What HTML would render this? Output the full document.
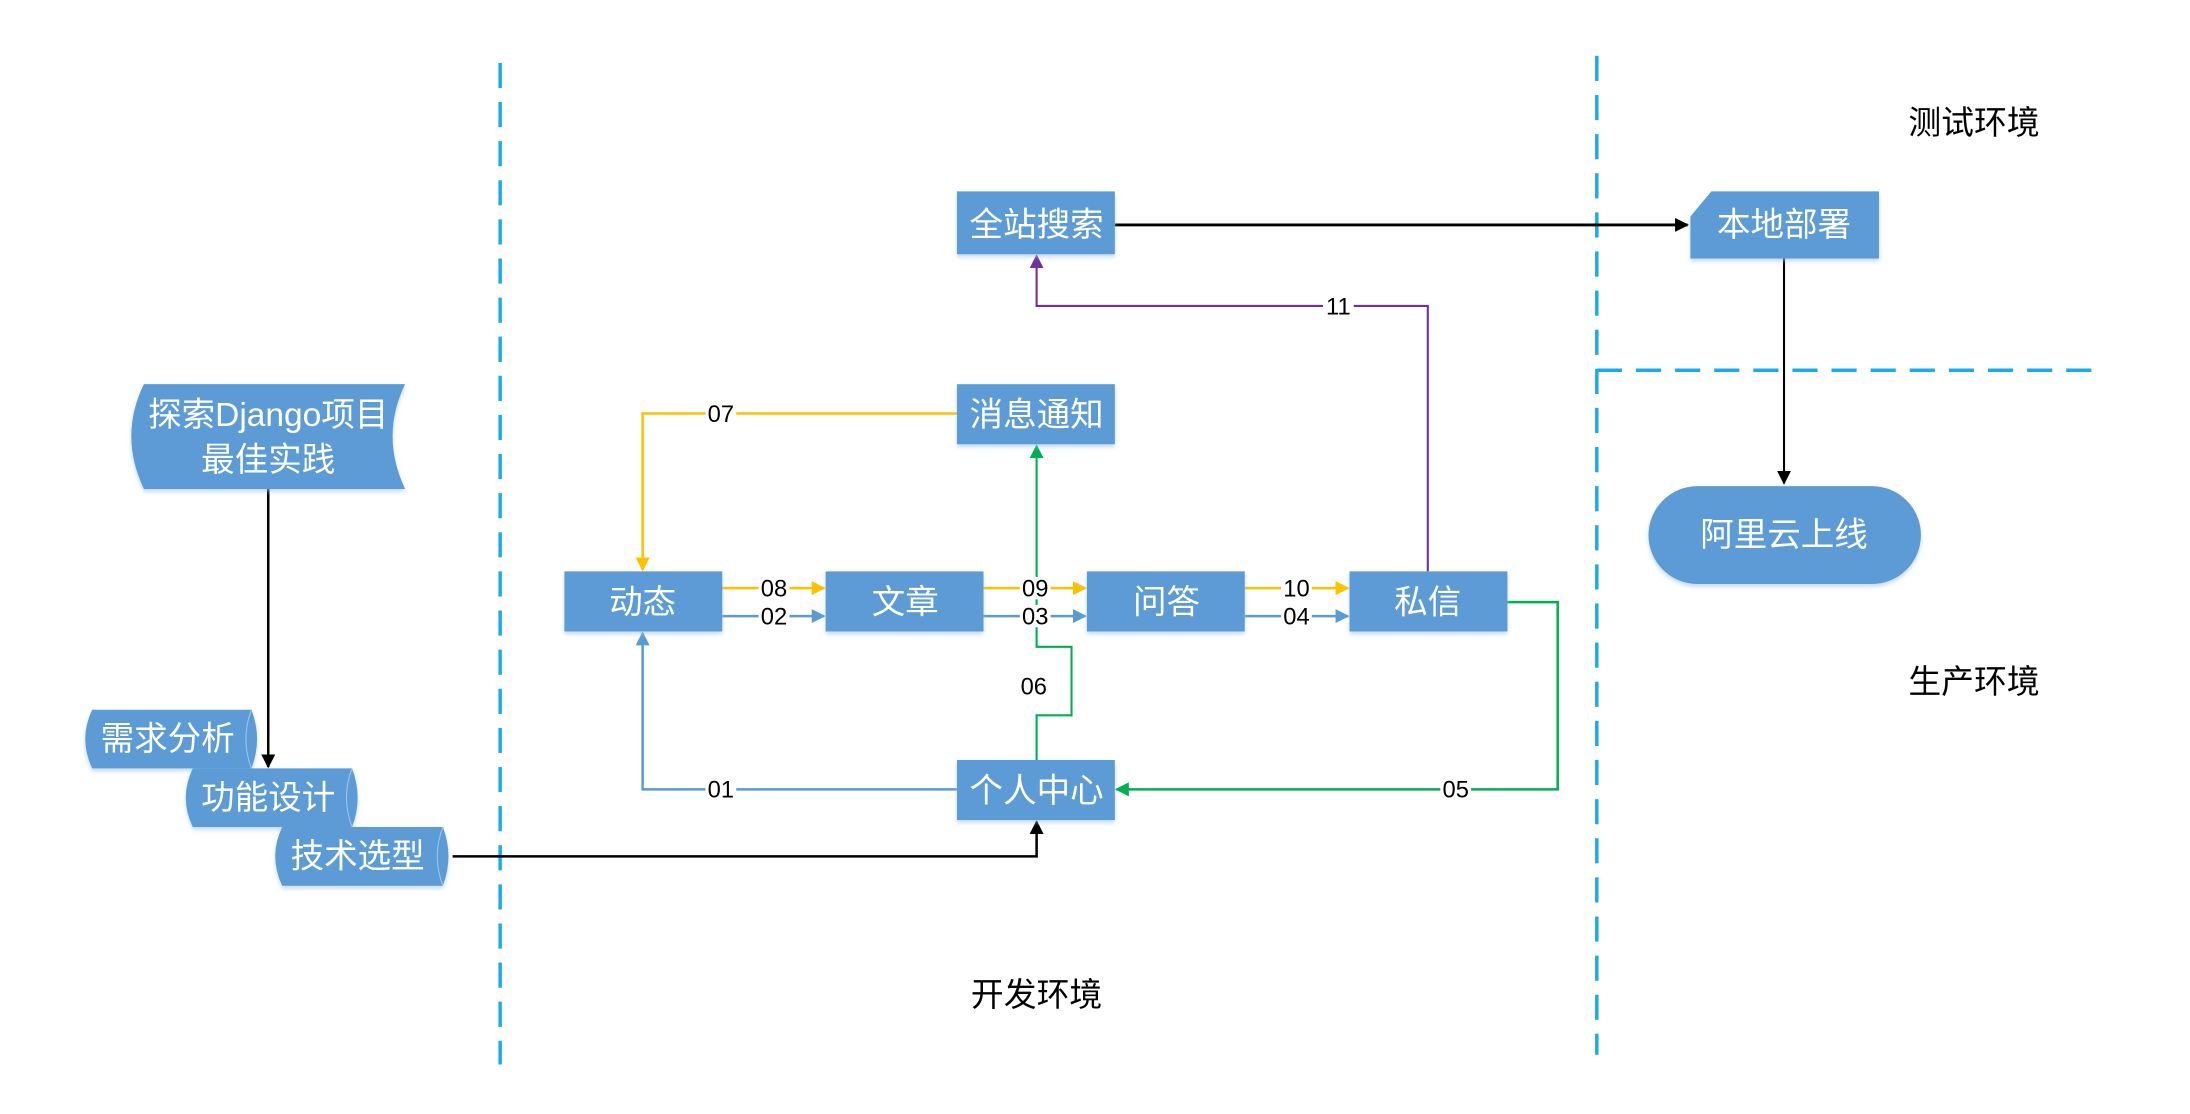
<!DOCTYPE html>
<html><head><meta charset="utf-8"><style>
html,body{margin:0;padding:0;background:#fff;width:2190px;height:1114px;overflow:hidden}
svg text{font-family:"Liberation Sans","Noto Sans CJK SC",sans-serif}
</style></head><body>
<svg width="2190" height="1114" viewBox="0 0 1567.6 797.4" preserveAspectRatio="none" xmlns="http://www.w3.org/2000/svg">
<defs>
<marker id="aK" markerWidth="10" markerHeight="10" refX="9" refY="5" orient="auto" markerUnits="userSpaceOnUse"><path d="M0,0 L10,5 L0,10 z" fill="#000"/></marker>
<marker id="aO" markerWidth="10" markerHeight="10" refX="9" refY="5" orient="auto" markerUnits="userSpaceOnUse"><path d="M0,0 L10,5 L0,10 z" fill="#ffc000"/></marker>
<marker id="aB" markerWidth="10" markerHeight="10" refX="9" refY="5" orient="auto" markerUnits="userSpaceOnUse"><path d="M0,0 L10,5 L0,10 z" fill="#5b9bd5"/></marker>
<marker id="aG" markerWidth="10" markerHeight="10" refX="9" refY="5" orient="auto" markerUnits="userSpaceOnUse"><path d="M0,0 L10,5 L0,10 z" fill="#00b050"/></marker>
<marker id="aP" markerWidth="10" markerHeight="10" refX="9" refY="5" orient="auto" markerUnits="userSpaceOnUse"><path d="M0,0 L10,5 L0,10 z" fill="#7030a0"/></marker>
<filter id="sh" x="-10%" y="-10%" width="120%" height="130%"><feDropShadow dx="0" dy="2" stdDeviation="1.5" flood-color="#9cc3e8" flood-opacity="0.6"/></filter>
</defs>
<g stroke="#1aabe8" stroke-width="2.5" stroke-dasharray="18 10" fill="none">
<line x1="358" y1="45" x2="358" y2="762"/>
<line x1="1143" y1="40" x2="1143" y2="755"/>
<line x1="1143" y1="265" x2="1503" y2="265"/>
</g>
<g font-size="23.5" fill="#000" text-anchor="middle">
<text x="1413" y="96">测试环境</text>
<text x="1413" y="496">生产环境</text>
<text x="742" y="720">开发环境</text>
</g>
<g fill="none">
<polyline points="798,161 1208,161" stroke="#000" stroke-width="2" marker-end="url(#aK)"/>
<polyline points="1277,185 1277,346" stroke="#000" stroke-width="1.5" marker-end="url(#aK)"/>
<polyline points="192,350 192,549" stroke="#000" stroke-width="1.8" marker-end="url(#aK)"/>
<polyline points="324,613 742,613 742,588" stroke="#000" stroke-width="1.8" marker-end="url(#aK)"/>
<polyline points="685,296 460,296 460,408" stroke="#ffc000" stroke-width="1.8" marker-end="url(#aO)"/>
<polyline points="517,421 590,421" stroke="#ffc000" stroke-width="1.8" marker-end="url(#aO)"/>
<polyline points="704,421 777,421" stroke="#ffc000" stroke-width="1.8" marker-end="url(#aO)"/>
<polyline points="891,421 965,421" stroke="#ffc000" stroke-width="1.8" marker-end="url(#aO)"/>
<polyline points="517,441 590,441" stroke="#5b9bd5" stroke-width="1.8" marker-end="url(#aB)"/>
<polyline points="704,441 777,441" stroke="#5b9bd5" stroke-width="1.8" marker-end="url(#aB)"/>
<polyline points="891,441 965,441" stroke="#5b9bd5" stroke-width="1.8" marker-end="url(#aB)"/>
<polyline points="685,565 460,565 460,453" stroke="#5b9bd5" stroke-width="1.8" marker-end="url(#aB)"/>
<polyline points="742,544 742,512 767,512 767,463 742,463 742,319" stroke="#00b050" stroke-width="1.5" marker-end="url(#aG)"/>
<polyline points="1079,431 1115,431 1115,565 799,565" stroke="#00b050" stroke-width="1.8" marker-end="url(#aG)"/>
<polyline points="1022,409 1022,219 742,219 742,183" stroke="#7030a0" stroke-width="1.5" marker-end="url(#aP)"/>
</g>
<g font-size="17" fill="#000" text-anchor="middle">
<rect x="505" y="288" width="22" height="17" fill="#fff"/><text x="516" y="302">07</text>
<rect x="543" y="413" width="22" height="16" fill="#fff"/><text x="554" y="427">08</text>
<rect x="543" y="433" width="22" height="16" fill="#fff"/><text x="554" y="447">02</text>
<rect x="730" y="413" width="22" height="16" fill="#fff"/><text x="741" y="427">09</text>
<rect x="730" y="433" width="22" height="16" fill="#fff"/><text x="741" y="447">03</text>
<rect x="917" y="413" width="22" height="16" fill="#fff"/><text x="928" y="427">10</text>
<rect x="917" y="433" width="22" height="16" fill="#fff"/><text x="928" y="447">04</text>
<text x="740" y="497">06</text>
<rect x="505" y="557" width="22" height="17" fill="#fff"/><text x="516" y="571">01</text>
<rect x="1031" y="557" width="22" height="17" fill="#fff"/><text x="1042" y="571">05</text>
<rect x="947" y="211" width="22" height="17" fill="#fff"/><text x="958" y="225">11</text>
</g>
<g fill="#5b9bd5" filter="url(#sh)">
<rect x="685" y="137" width="113" height="45"/>
<path d="M1225,137 L1345,137 L1345,185 L1210,185 L1210,155 z"/>
<rect x="1180" y="348" width="195" height="70" rx="35"/>
<rect x="685" y="275" width="113" height="43"/>
<rect x="404" y="409" width="113" height="43"/>
<rect x="591" y="409" width="113" height="43"/>
<rect x="778" y="409" width="113" height="43"/>
<rect x="966" y="409" width="113" height="43"/>
<rect x="685" y="544" width="113" height="43"/>
<path d="M103,275 L290,275 Q272,312 290,350 L103,350 Q85,312 103,275 z"/>
<path d="M66,508 L180,508 Q188,529 180,550 L66,550 Q56,529 66,508 z"/>
<path d="M138,550 L252,550 Q260,571 252,592 L138,592 Q128,571 138,550 z"/>
<path d="M202,592 L317,592 Q325,613 317,634 L202,634 Q192,613 202,592 z"/>
</g>
<g fill="none" stroke="#9cc3e8" stroke-width="0.8">
<path d="M180,508 Q172,529 180,550"/>
<path d="M252,550 Q244,571 252,592"/>
<path d="M317,592 Q309,613 317,634"/>
</g>
<g font-size="24" fill="#fff" text-anchor="middle">
<text x="742" y="169">全站搜索</text>
<text x="1277" y="169">本地部署</text>
<text x="1277" y="391">阿里云上线</text>
<text x="742" y="305">消息通知</text>
<text x="460" y="439">动态</text>
<text x="648" y="439">文章</text>
<text x="835" y="439">问答</text>
<text x="1022" y="439">私信</text>
<text x="742" y="574">个人中心</text>
<text x="192" y="305">探索Django项目</text>
<text x="192" y="337">最佳实践</text>
<text x="120" y="537">需求分析</text>
<text x="192" y="579">功能设计</text>
<text x="256" y="621">技术选型</text>
</g>
</svg>
</body></html>
